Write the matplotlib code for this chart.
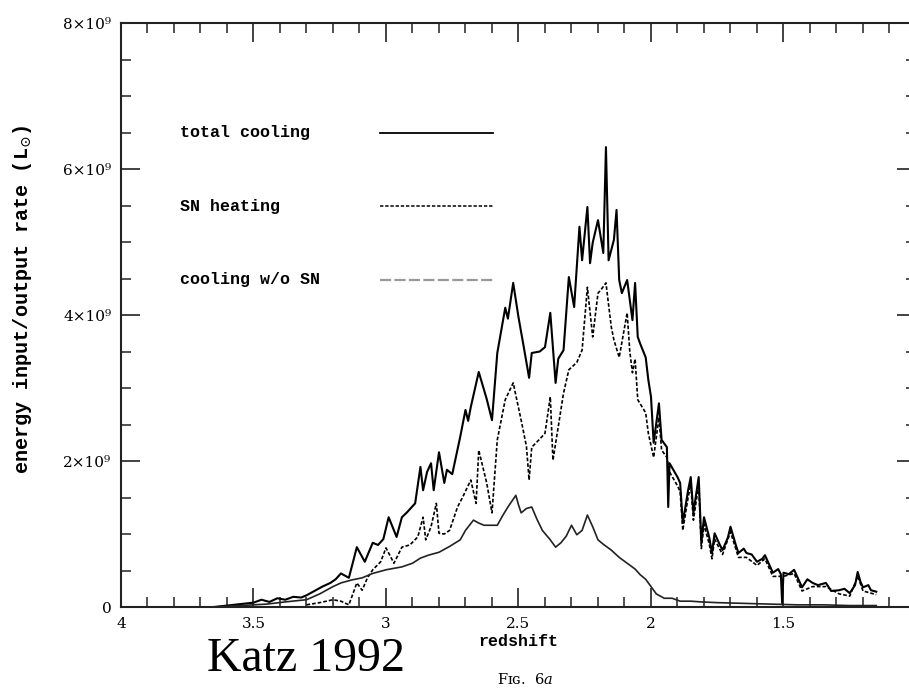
import matplotlib
matplotlib.use("Agg")
import matplotlib.pyplot as plt
from matplotlib.ticker import MultipleLocator, FixedLocator, FixedFormatter
from matplotlib.lines import Line2D

plt.rcParams['mathtext.fontset'] = 'dejavuserif'

# redshift / rate (units of 1e9 L_sun)
z_total = [3.65, 3.60, 3.55, 3.50, 3.47, 3.44, 3.41, 3.38, 3.35, 3.32, 3.30, 3.27, 3.24,
           3.21, 3.19, 3.17, 3.14, 3.11, 3.08, 3.05, 3.03, 3.01, 2.99, 2.96, 2.94, 2.92,
           2.89, 2.87, 2.86, 2.845, 2.83, 2.82, 2.80, 2.78, 2.77, 2.75, 2.72, 2.70, 2.69,
           2.68, 2.65, 2.62, 2.60, 2.58, 2.55, 2.54, 2.52, 2.50, 2.48, 2.46, 2.45, 2.42,
           2.40, 2.38, 2.36, 2.35, 2.33, 2.31, 2.29, 2.27, 2.26, 2.24, 2.23, 2.22, 2.20,
           2.18, 2.17, 2.16, 2.14, 2.13, 2.12, 2.11, 2.09, 2.07, 2.06, 2.05, 2.04, 2.02,
           2.01, 2.00, 1.99, 1.97, 1.96, 1.94, 1.935, 1.93, 1.90, 1.89, 1.88, 1.86, 1.85,
           1.84, 1.82, 1.81, 1.80, 1.78, 1.77, 1.76, 1.74, 1.73, 1.71, 1.70, 1.68, 1.67,
           1.65, 1.64, 1.62, 1.60, 1.58, 1.57, 1.55, 1.54, 1.52, 1.51, 1.505, 1.50, 1.48,
           1.46, 1.44, 1.43, 1.41, 1.39, 1.37, 1.34, 1.32, 1.29, 1.27, 1.25, 1.23, 1.22,
           1.21, 1.20, 1.18, 1.17, 1.15]
total_cooling = [0.0, 0.02, 0.04, 0.06, 0.10, 0.07, 0.12, 0.10, 0.14, 0.13, 0.16, 0.22, 0.28,
                 0.33, 0.38, 0.46, 0.40, 0.82, 0.62, 0.88, 0.85, 0.93, 1.23, 0.96, 1.23, 1.30,
                 1.42, 1.92, 1.60, 1.85, 1.97, 1.60, 2.12, 1.70, 1.88, 1.82, 2.33, 2.70, 2.55,
                 2.74, 3.22, 2.85, 2.56, 3.48, 4.10, 3.95, 4.44, 3.97, 3.56, 3.14, 3.48, 3.50,
                 3.56, 4.03, 3.07, 3.40, 3.52, 4.52, 4.11, 5.21, 4.75, 5.48, 4.71, 4.99, 5.30,
                 4.85, 6.30, 4.75, 5.03, 5.44, 4.48, 4.30, 4.48, 3.93, 4.44, 3.70, 3.60, 3.42,
                 3.11, 2.88, 2.25, 2.79, 2.29, 2.19, 1.37, 1.97, 1.78, 1.70, 1.15, 1.60, 1.78,
                 1.29, 1.78, 0.88, 1.23, 0.95, 0.74, 1.01, 0.85, 0.78, 0.95, 1.10, 0.85, 0.74,
                 0.80, 0.74, 0.72, 0.62, 0.66, 0.71, 0.55, 0.47, 0.52, 0.45, 0.05, 0.47, 0.45,
                 0.51, 0.35, 0.27, 0.38, 0.33, 0.30, 0.33, 0.22, 0.23, 0.25, 0.19, 0.30, 0.48,
                 0.35, 0.27, 0.30, 0.23, 0.21]

z_sn = [3.30, 3.25, 3.20, 3.17, 3.14, 3.11, 3.09, 3.07, 3.05, 3.02, 3.00, 2.97, 2.94, 2.91,
        2.88, 2.86, 2.85, 2.83, 2.81, 2.80, 2.78, 2.76, 2.73, 2.71, 2.68, 2.66, 2.65, 2.62,
        2.60, 2.58, 2.55, 2.52, 2.49, 2.47, 2.46, 2.45, 2.42, 2.40, 2.38, 2.37, 2.34, 2.33,
        2.31, 2.28, 2.26, 2.24, 2.22, 2.20, 2.19, 2.17, 2.15, 2.14, 2.12, 2.09, 2.08, 2.07,
        2.06, 2.05, 2.02, 2.01, 1.99, 1.97, 1.96, 1.94, 1.93, 1.90, 1.89, 1.88, 1.86, 1.85,
        1.84, 1.82, 1.81, 1.80, 1.78, 1.77, 1.76, 1.73, 1.70, 1.67, 1.64, 1.60, 1.57, 1.54,
        1.50, 1.46, 1.43, 1.39, 1.34, 1.29, 1.25, 1.22, 1.20, 1.17, 1.15]
sn_heating = [0.03, 0.06, 0.10, 0.08, 0.03, 0.33, 0.23, 0.40, 0.51, 0.62, 0.81, 0.60, 0.82, 0.85,
              0.96, 1.23, 0.92, 1.10, 1.42, 1.01, 1.00, 1.05, 1.37, 1.51, 1.74, 1.42, 2.15, 1.70,
              1.29, 2.29, 2.84, 3.07, 2.56, 2.20, 1.74, 2.19, 2.30, 2.38, 2.88, 2.01, 2.70, 2.93,
              3.25, 3.35, 3.52, 4.38, 3.70, 4.30, 4.34, 4.44, 3.84, 3.66, 3.42, 4.03, 3.50, 3.21,
              3.40, 2.84, 2.66, 2.38, 2.05, 2.60, 2.15, 2.05, 1.85, 1.66, 1.58, 1.05, 1.50, 1.68,
              1.19, 1.68, 0.80, 1.13, 0.86, 0.66, 0.93, 0.72, 1.03, 0.68, 0.68, 0.57, 0.66, 0.42,
              0.42, 0.46, 0.22, 0.28, 0.28, 0.18, 0.15, 0.42, 0.22, 0.19, 0.17]

z_nosn = [3.65, 3.55, 3.45, 3.38, 3.30, 3.25, 3.20, 3.17, 3.13, 3.09, 3.05, 3.00, 2.97, 2.94,
          2.90, 2.87, 2.84, 2.80, 2.76, 2.72, 2.70, 2.67, 2.65, 2.63, 2.60, 2.58, 2.56, 2.54,
          2.51, 2.50, 2.49, 2.47, 2.45, 2.43, 2.41, 2.38, 2.36, 2.34, 2.32, 2.30, 2.28, 2.26,
          2.24, 2.22, 2.20, 2.18, 2.15, 2.12, 2.09, 2.06, 2.04, 2.02, 2.00, 1.98, 1.95, 1.92,
          1.89, 1.85, 1.81, 1.75, 1.65, 1.55, 1.45, 1.35, 1.25, 1.15]
cooling_nosn = [0.0, 0.02, 0.04, 0.07, 0.10, 0.18, 0.28, 0.33, 0.37, 0.40, 0.46, 0.51, 0.53, 0.55,
                0.60, 0.67, 0.71, 0.75, 0.83, 0.92, 1.05, 1.19, 1.15, 1.12, 1.12, 1.12, 1.25, 1.37,
                1.53, 1.40, 1.29, 1.35, 1.37, 1.20, 1.05, 0.92, 0.82, 0.88, 0.97, 1.12, 0.99, 1.05,
                1.26, 1.10, 0.92, 0.86, 0.78, 0.68, 0.60, 0.52, 0.44, 0.38, 0.28, 0.18, 0.12, 0.12,
                0.08, 0.08, 0.07, 0.06, 0.05, 0.04, 0.03, 0.03, 0.02, 0.02]

y_ticks = [0, 2, 4, 6, 8]
y_labels = ['0', '2×10⁹', '4×10⁹', '6×10⁹', '8×10⁹']
x_ticks = [4, 3.5, 3, 2.5, 2, 1.5, 1]
x_labels = ['4', '3.5', '3', '2.5', '2', '1.5', '']

mono = ['Liberation Mono', 'DejaVu Sans Mono']

fig = plt.figure(figsize=(9.09, 6.92), dpi=100)
ax = fig.add_axes([0.1331, 0.1228, 0.8746, 0.8439])

ax.plot(z_total, total_cooling, color='black', lw=1.5)
ax.plot(z_sn, sn_heating, color='black', lw=1.2, dashes=(2.2, 1.2))
ax.plot(z_nosn, cooling_nosn, color='#222222', lw=1.2)

ax.set_xlim(4, 1)
ax.set_ylim(0, 8)

ax.xaxis.set_major_locator(FixedLocator(x_ticks))
ax.xaxis.set_major_formatter(FixedFormatter(x_labels))
ax.xaxis.set_minor_locator(MultipleLocator(0.1))
ax.yaxis.set_major_locator(FixedLocator(y_ticks))
ax.yaxis.set_major_formatter(FixedFormatter(y_labels))
ax.yaxis.set_minor_locator(MultipleLocator(0.5))
ax.tick_params(which='both', direction='in', top=True, right=True, color='#222222')
ax.tick_params(which='major', length=14, width=1.2, pad=7, labelsize=11)
ax.tick_params(which='minor', length=7, width=1.1)
for lab in ax.get_xticklabels() + ax.get_yticklabels():
    lab.set_family('DejaVu Serif')
for sp in ax.spines.values():
    sp.set_linewidth(1.5)
    sp.set_color('#222222')

ax.set_xlabel('redshift', family=mono, fontweight='bold', fontsize=12, labelpad=2)
ax.set_ylabel(r'energy input/output rate (L$_{\odot}$)', family=mono, fontweight='bold',
              fontsize=14.5)
ax.yaxis.set_label_coords(-0.11, 0.527)

# legend: label on the left, line sample on the right
legend_rows = [('total cooling', dict(color='black', lw=1.3)),
               ('SN heating', dict(color='black', lw=1.1, dashes=(2.2, 1.2))),
               ('cooling w/o SN', dict(color='#999999', lw=1.6, dashes=(5, 1.5)))]
for i, (label, style) in enumerate(legend_rows):
    yy = 0.812 - i * 0.126
    ax.text(0.074, yy, label, transform=ax.transAxes, family=mono, fontweight='bold',
            fontsize=12, va='center', ha='left')
    ax.add_line(Line2D([0.326, 0.468], [yy, yy], transform=ax.transAxes, **style))

fig.text(0.228, 0.030, 'Katz 1992', family='Liberation Serif', fontsize=34.5, ha='left',
         va='baseline')
fig.text(0.578, 0.012, r'Fɪɢ.  6$\it{a}$', family='DejaVu Serif', fontsize=10.5,
         ha='center', va='baseline')

fig.savefig('out.png', dpi=100)
